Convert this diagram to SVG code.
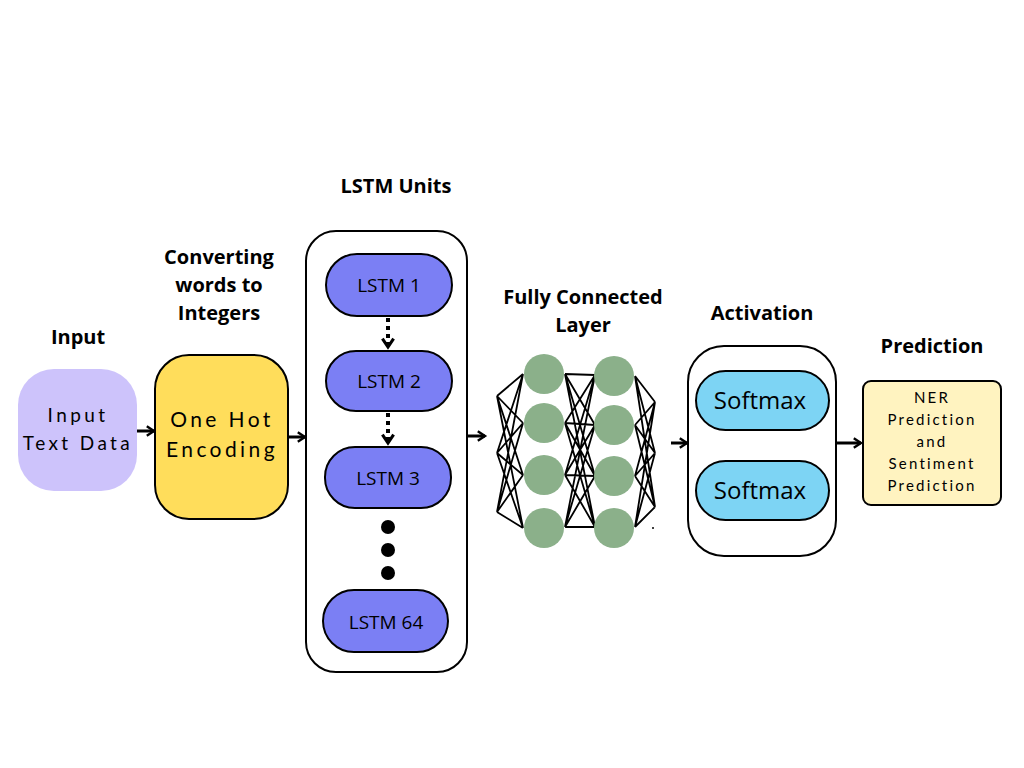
<svg xmlns="http://www.w3.org/2000/svg" width="1024" height="768" viewBox="0 0 1024 768">
<defs>
<style>
.title{font-family:"Open Sans","Liberation Sans",sans-serif;font-weight:bold;font-size:20px;fill:#000;text-anchor:middle}
.lbl{font-family:"Lato","Liberation Sans",sans-serif;fill:#000;text-anchor:middle}
.lstm{font-family:"Open Sans","Liberation Sans",sans-serif;font-size:19px;fill:#000;text-anchor:middle}
.sm{font-family:"Open Sans","Liberation Sans",sans-serif;font-size:24px;fill:#000;text-anchor:middle}
.box{stroke:#000;stroke-width:2}
.conn{stroke:#000;stroke-width:3;fill:none}
.dash{stroke:#000;stroke-width:4;fill:none;stroke-dasharray:4,4}
.net{stroke:#000;stroke-width:1.8;fill:none}
.neuron{fill:#8BB08A}
</style>
<marker id="ah" viewBox="0 0 10 10" refX="7" refY="5" markerWidth="4" markerHeight="4" orient="auto" markerUnits="strokeWidth">
<path d="M1,1 L7,5 L1,9" fill="none" stroke="#000" stroke-width="2"/>
</marker>
<marker id="ah2" viewBox="0 0 10 10" refX="7" refY="5" markerWidth="3.5" markerHeight="3.5" orient="auto" markerUnits="strokeWidth">
<path d="M1,1 L7,5 L1,9" fill="none" stroke="#000" stroke-width="2.2"/>
</marker>
</defs>
<rect width="1024" height="768" fill="#fff"/>

<g id="titles">
<text class="title" x="219" y="264">Converting</text>
<text class="title" x="219" y="292">words to</text>
<text class="title" x="219" y="320">Integers</text>
<text class="title" x="78" y="344">Input</text>
<text class="title" x="396" y="193">LSTM Units</text>
<text class="title" x="583" y="304">Fully Connected</text>
<text class="title" x="583" y="332">Layer</text>
<text class="title" x="762" y="320">Activation</text>
<text class="title" x="932" y="353">Prediction</text>
</g>

<g id="input">
<rect x="18" y="369" width="119" height="122" rx="36" fill="#CDC3FB"/>
<text class="lbl" x="78" y="422" font-size="19" letter-spacing="3.4">Input</text>
<text class="lbl" x="78" y="450" font-size="19" letter-spacing="3.4">Text Data</text>
</g>

<g id="onehot">
<rect class="box" x="155" y="355" width="133" height="164" rx="34" fill="#FFDD5B"/>
<text class="lbl" x="222" y="427" font-size="21" letter-spacing="3.4">One Hot</text>
<text class="lbl" x="222" y="457" font-size="21" letter-spacing="3.4">Encoding</text>
</g>

<g id="lstm-container">
<rect class="box" x="306" y="231" width="161" height="441" rx="30" fill="#fff"/>
</g>
<g id="lstm1">
<rect class="box" x="326" y="254" width="126" height="62" rx="31" fill="#7B7FF4"/>
<text class="lstm" x="389" y="292">LSTM 1</text>
</g>
<g id="lstm2">
<rect class="box" x="326" y="351" width="126" height="60" rx="30" fill="#7B7FF4"/>
<text class="lstm" x="389" y="388">LSTM 2</text>
</g>
<g id="lstm3">
<rect class="box" x="325" y="447" width="126" height="61" rx="30" fill="#7B7FF4"/>
<text class="lstm" x="388" y="485">LSTM 3</text>
</g>
<g id="dots">
<circle cx="388" cy="527" r="7" fill="#000"/>
<circle cx="388" cy="550" r="7" fill="#000"/>
<circle cx="388" cy="573" r="7" fill="#000"/>
</g>
<g id="lstm64">
<rect class="box" x="323" y="590" width="125" height="62" rx="31" fill="#7B7FF4"/>
<text class="lstm" x="386" y="629">LSTM 64</text>
</g>

<g id="fc-layer">
<g class="net">
<path d="M497,396 L523,374 M497,396 L523,423 M497,396 L523,475 M497,396 L523,528 M497,453 L523,374 M497,453 L523,423 M497,453 L523,475 M497,453 L523,528 M497,512 L523,374 M497,512 L523,423 M497,512 L523,475 M497,512 L523,528"/>
<path d="M565,374 L595,375 M565,374 L595,425 M565,374 L595,476 M565,374 L595,527 M565,423 L595,375 M565,423 L595,425 M565,423 L595,476 M565,423 L595,527 M565,475 L595,375 M565,475 L595,425 M565,475 L595,476 M565,475 L595,527 M565,527 L595,375 M565,527 L595,425 M565,527 L595,476 M565,527 L595,527"/>
<path d="M635,376 L655,402 M635,376 L655,453 M635,376 L655,507 M635,425 L655,402 M635,425 L655,453 M635,425 L655,507 M635,476 L655,402 M635,476 L655,453 M635,476 L655,507 M635,527 L655,402 M635,527 L655,453 M635,527 L655,507"/>
</g>
<circle class="neuron" cx="544" cy="374" r="20"/>
<circle class="neuron" cx="544" cy="423" r="20"/>
<circle class="neuron" cx="544" cy="475" r="20"/>
<circle class="neuron" cx="544" cy="528" r="20"/>
<circle class="neuron" cx="614" cy="376" r="20"/>
<circle class="neuron" cx="614" cy="425" r="20"/>
<circle class="neuron" cx="614" cy="476" r="20"/>
<circle class="neuron" cx="614" cy="528" r="20"/>
<circle cx="653" cy="528" r="1" fill="#000"/>
</g>

<g id="activation">
<rect class="box" x="688" y="346" width="148" height="210" rx="36" fill="#fff"/>
</g>
<g id="softmax1">
<rect class="box" x="696" y="371" width="133" height="59" rx="29.5" fill="#7DD4F4"/>
<text class="sm" x="760" y="409">Softmax</text>
</g>
<g id="softmax2">
<rect class="box" x="696" y="461" width="133" height="59" rx="29.5" fill="#7DD4F4"/>
<text class="sm" x="760" y="499">Softmax</text>
</g>

<g id="prediction">
<rect class="box" x="863" y="381" width="138" height="124" rx="8" fill="#FFF3C0"/>
<text class="lbl" x="932" y="403" font-size="15" letter-spacing="2.2">NER</text>
<text class="lbl" x="932" y="425" font-size="15" letter-spacing="2.2">Prediction</text>
<text class="lbl" x="932" y="447" font-size="15" letter-spacing="2.2">and</text>
<text class="lbl" x="932" y="469" font-size="15" letter-spacing="2.2">Sentiment</text>
<text class="lbl" x="932" y="491" font-size="15" letter-spacing="2.2">Prediction</text>
</g>

<g id="connectors">
<line class="conn" x1="137" y1="431" x2="154" y2="431" marker-end="url(#ah)"/>
<line class="conn" x1="288" y1="437" x2="305" y2="437" marker-end="url(#ah)"/>
<line class="conn" x1="468" y1="436" x2="485" y2="436" marker-end="url(#ah)"/>
<line class="conn" x1="671" y1="443" x2="687" y2="443" marker-end="url(#ah)"/>
<line class="conn" x1="837" y1="443" x2="861" y2="443" marker-end="url(#ah)"/>
<line class="dash" x1="388" y1="318" x2="388" y2="347" marker-end="url(#ah2)"/>
<line class="dash" x1="388" y1="413" x2="388" y2="443" marker-end="url(#ah2)"/>
</g>
</svg>
